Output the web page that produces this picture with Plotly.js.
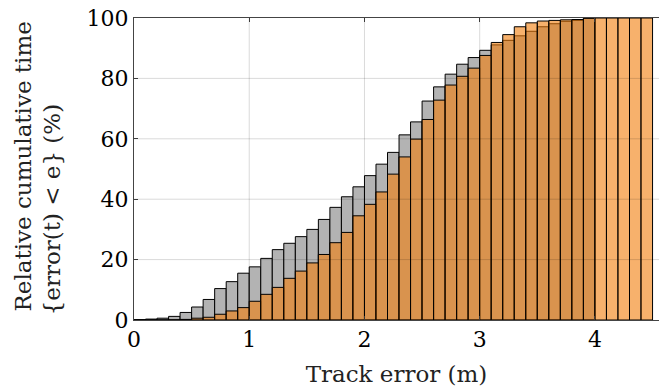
<!DOCTYPE html>
<html>
<head>
<meta charset="utf-8">
<script src="https://cdn.plot.ly/plotly-3.0.1.min.js"></script>
<style>html,body{margin:0;padding:0;background:#fff;}#chart{width:659px;height:392px;}</style>
</head>
<body>
<div id="chart"></div>
<script>
// Bin centres of the track error histogram (m), bin width 0.1 m
const binCenters = [0.05,0.15,0.25,0.35,0.45,0.55,0.65,0.75,0.85,0.95,
  1.05,1.15,1.25,1.35,1.45,1.55,1.65,1.75,1.85,1.95,
  2.05,2.15,2.25,2.35,2.45,2.55,2.65,2.75,2.85,2.95,
  3.05,3.15,3.25,3.35,3.45,3.55,3.65,3.75,3.85,3.95,
  4.05,4.15,4.25,4.35,4.45];
const binWidth = 0.1;
// Gray series: cumulative time (%) — bins up to 4.0 m
const grayValues = [0.1,0.3,0.6,1.2,2.5,4.3,6.8,10.4,12.7,15.5,
  17.6,20.4,23.3,25.4,27.6,30.0,33.3,37.3,40.8,44.1,
  47.8,51.6,55.5,61.3,65.6,72.5,77.2,81.4,84.7,86.9,
  89.3,91.1,92.6,94.1,95.6,97.1,98.1,98.9,99.2,99.9];
// Orange series: cumulative time (%) — bins up to 4.5 m
const orangeValues = [0,0,0,0.05,0.2,0.6,0.9,1.9,3.0,4.1,
  6.2,8.5,10.8,13.8,16.2,18.9,21.7,25.6,29.0,34.5,
  38.3,42.4,48.3,54.0,59.9,66.4,72.8,77.8,80.7,83.4,
  87.6,91.9,94.5,97.1,98.4,99.0,99.2,99.4,99.5,99.9,
  100,100,100,100,100];
const xTicks = [0,1,2,3,4];
const yTicks = [0,20,40,60,80,100];

const fontFam = "DejaVu Serif, Liberation Serif, serif";

const traces = [
  {
    type: 'bar',
    x: binCenters.slice(0, grayValues.length),
    y: grayValues,
    width: binWidth,
    marker: {color: 'rgb(179,179,179)', line: {color: '#000', width: 1}},
    hoverinfo: 'skip'
  },
  {
    type: 'bar',
    x: binCenters.slice(0, orangeValues.length),
    y: orangeValues,
    width: binWidth,
    marker: {color: 'rgba(242,125,10,0.6)', line: {color: '#000', width: 1}},
    hoverinfo: 'skip'
  }
];

const gridShapes = [];
xTicks.filter(v => v > 0).forEach(v => gridShapes.push({
  type: 'line', xref: 'x', yref: 'paper', x0: v, x1: v, y0: 0, y1: 1,
  line: {color: 'rgba(0,0,0,0.15)', width: 1}, layer: 'above'
}));
yTicks.filter(v => v > 0 && v < 100).forEach(v => gridShapes.push({
  type: 'line', xref: 'paper', yref: 'y', x0: 0, x1: 1, y0: v, y1: v,
  line: {color: 'rgba(0,0,0,0.15)', width: 1}, layer: 'above'
}));

const layout = {
  width: 659, height: 392,
  margin: {l: 134, r: 0, t: 18, b: 72},
  paper_bgcolor: '#fff', plot_bgcolor: '#fff',
  barmode: 'overlay', bargap: 0,
  showlegend: false,
  font: {family: fontFam, size: 21, color: '#000'},
  xaxis: {
    range: [0, 4.556],
    tickvals: xTicks,
    ticktext: xTicks.map(String),
    showgrid: false, zeroline: false,
    showline: true, linecolor: '#444', linewidth: 1,
    mirror: 'ticks', ticks: 'inside', ticklen: 4, tickcolor: '#444',
    layer: 'above traces',
    tickfont: {family: fontFam, size: 22, color: '#000'},
    title: {text: 'Track error (m)', font: {family: fontFam, size: 23, color: '#222'}, standoff: 14}
  },
  yaxis: {
    range: [0, 100],
    tickvals: yTicks,
    ticktext: yTicks.map(String),
    showgrid: false, zeroline: false,
    showline: true, linecolor: '#444', linewidth: 1,
    mirror: false, ticks: 'inside', ticklen: 4, tickcolor: '#444',
    layer: 'above traces',
    tickfont: {family: fontFam, size: 22, color: '#000'}
  },
  shapes: gridShapes,
  annotations: [
    {text: 'Relative cumulative time', xref: 'paper', yref: 'paper',
     x: -0.2115, y: 0.508, xanchor: 'center', yanchor: 'middle', textangle: -90, showarrow: false,
     font: {family: fontFam, size: 23, color: '#222'}},
    {text: '{error(t) &lt; e} (%)', xref: 'paper', yref: 'paper',
     x: -0.1545, y: 0.366, xanchor: 'center', yanchor: 'middle', textangle: -90, showarrow: false,
     font: {family: fontFam, size: 23, color: '#222'}}
  ]
};

Plotly.newPlot('chart', traces, layout, {displayModeBar: false, staticPlot: true});
</script>
</body>
</html>
